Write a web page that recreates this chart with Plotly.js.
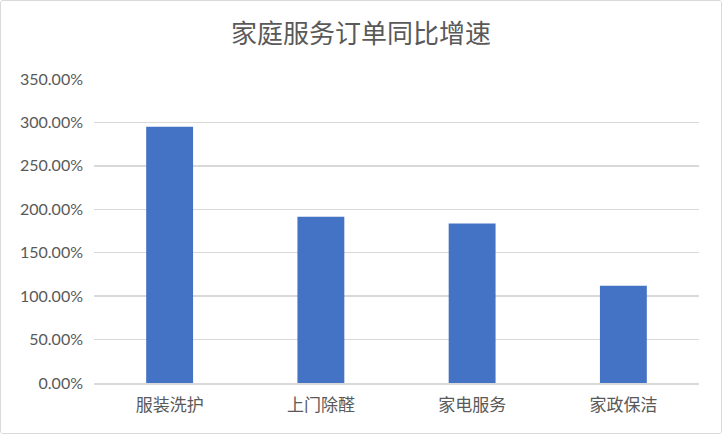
<!DOCTYPE html>
<html><head><meta charset="utf-8">
<script src="https://cdn.plot.ly/plotly-3.0.1.min.js"></script>
<style>
html,body{margin:0;padding:0;background:#fff;}
#wrap{width:720px;height:432px;border:1px solid #d9d9d9;border-radius:3px;overflow:hidden;}
#chart{width:720px;height:432px;}
</style></head>
<body><div id="wrap"><div id="chart"></div></div>
<script>
const categories = ['服装洗护', '上门除醛', '家电服务', '家政保洁'];
const growth = [2.95, 1.915, 1.835, 1.12];
const titleText = '家庭服务订单同比增速';
const yTicks = [0, 0.5, 1, 1.5, 2, 2.5, 3, 3.5];

const trace = {
  type: 'bar', x: categories, y: growth,
  marker: {color: '#4472C4'},
  hoverinfo: 'x+y'
};
const layout = {
  width: 720, height: 432,
  margin: {l: 93, r: 22, t: 78, b: 50},
  paper_bgcolor: '#fff', plot_bgcolor: '#fff',
  bargap: 0.69,
  showlegend: false,
  title: {text: titleText, x: 0.5, xanchor: 'center', y: 0.925, yanchor: 'middle',
          font: {family: 'Noto Sans CJK SC, sans-serif', size: 26, color: '#595959'}},
  xaxis: {
    tickfont: {family: 'Noto Sans CJK SC, sans-serif', size: 17, color: '#595959'},
    showline: true, linecolor: '#d9d9d9', linewidth: 1.5,
    ticks: '', ticklen: 0, showgrid: false, ticklabelstandoff: 6
  },
  yaxis: {
    range: [0, 3.5], tickvals: yTicks, tickformat: '.2%',
    tickfont: {family: 'Lato, sans-serif', size: 16, color: '#595959'},
    gridcolor: '#d9d9d9', gridwidth: 1.5, zeroline: false,
    showline: false, ticks: '', ticklen: 0, ticklabelstandoff: 10
  }
};
Plotly.newPlot('chart', [trace], layout, {displayModeBar: false, staticPlot: true});
</script></body></html>
